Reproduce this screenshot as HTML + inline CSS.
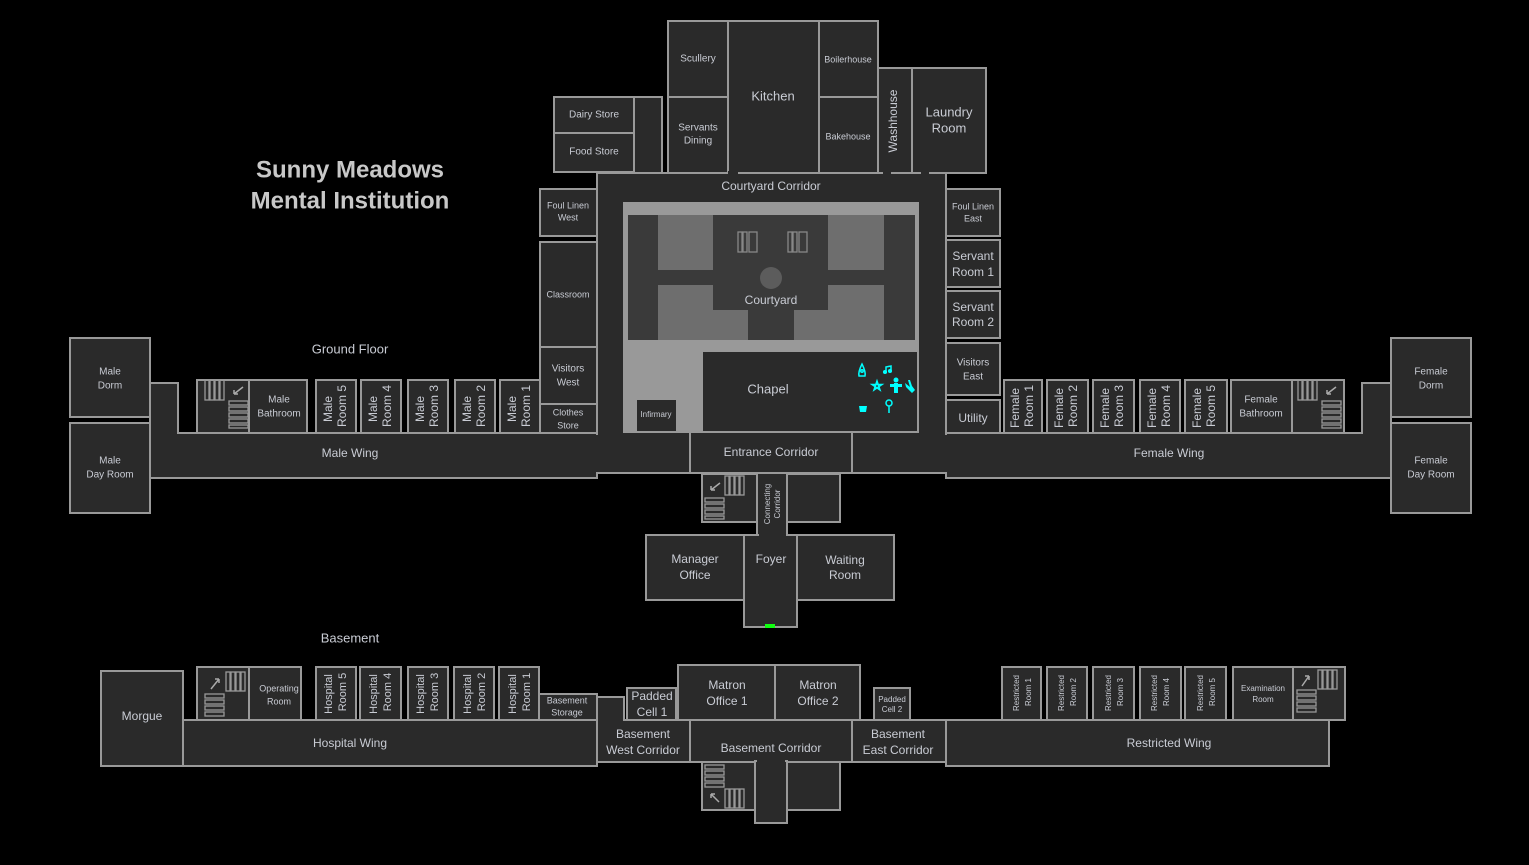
<!DOCTYPE html>
<html><head><meta charset="utf-8"><style>
html,body{margin:0;padding:0;background:#000;}
svg{display:block}
text{font-family:"Liberation Sans",sans-serif;fill:#c9ccd4;text-anchor:middle;dominant-baseline:middle}
.r{fill:#2a2a2a;stroke:#999;stroke-width:2}
.n{fill:none;stroke:#999;stroke-width:2}
.s{fill:none;stroke:#999;stroke-width:1.3}
.t{font-size:12px}
.m{font-size:13px}
.sm{font-size:10px}
.xs{font-size:9px}
</style></head><body>
<svg width="1529" height="865" viewBox="0 0 1529 865" xmlns="http://www.w3.org/2000/svg">
<defs>
<g id="stairs">
<rect class="s" x="0" y="0" width="4" height="20"/><rect class="s" x="5" y="0" width="4" height="20"/><rect class="s" x="10" y="0" width="4" height="20"/><rect class="s" x="15" y="0" width="4" height="20"/>
<rect class="s" x="24" y="21" width="19" height="4"/><rect class="s" x="24" y="27" width="19" height="4"/><rect class="s" x="24" y="33" width="19" height="4"/><rect class="s" x="24" y="39" width="19" height="4"/><rect class="s" x="24" y="45" width="19" height="3"/>
</g>
</defs>
<text x="350" y="171" style="font-size:24px;font-weight:bold;fill:#c8c8c8">Sunny Meadows</text>
<text x="350" y="202" style="font-size:24px;font-weight:bold;fill:#c8c8c8">Mental Institution</text>
<text x="350" y="350" class="m">Ground Floor</text>
<text x="350" y="639" class="m">Basement</text>

<!-- ===== GROUND FLOOR ===== -->
<rect class="r" x="634" y="97" width="28" height="80"/>
<rect class="r" x="597" y="173" width="349" height="300"/>
<rect class="r" x="554" y="97" width="80" height="36"/><text x="594" y="115" class="sm">Dairy Store</text>
<rect class="r" x="554" y="133" width="80" height="39"/><text x="594" y="152" class="sm">Food Store</text>
<rect class="r" x="668" y="21" width="60" height="76"/><text x="698" y="59" class="sm">Scullery</text>
<rect class="r" x="668" y="97" width="60" height="76"/><text x="698" y="128" class="sm">Servants</text><text x="698" y="141" class="sm">Dining</text>
<rect class="r" x="728" y="21" width="91" height="152"/><text x="773" y="97" class="m">Kitchen</text>
<rect class="r" x="819" y="21" width="59" height="76"/><text x="848" y="60" class="xs">Boilerhouse</text>
<rect class="r" x="819" y="97" width="59" height="76"/><text x="848" y="137" class="xs">Bakehouse</text>
<rect class="r" x="878" y="68" width="34" height="105"/><text transform="translate(894,121) rotate(-90)" class="t">Washhouse</text>
<rect class="r" x="912" y="68" width="74" height="105"/><text x="949" y="113" class="m">Laundry</text><text x="949" y="129" class="m">Room</text>
<rect fill="#2a2a2a" x="728" y="171" width="10" height="4"/><rect fill="#2a2a2a" x="883" y="171" width="8" height="4"/><rect fill="#2a2a2a" x="921" y="171" width="8" height="4"/>
<text x="771" y="187" class="t">Courtyard Corridor</text>

<rect class="r" x="540" y="189" width="57" height="47"/><text x="568" y="206" class="xs">Foul Linen</text><text x="568" y="218" class="xs">West</text>
<rect class="r" x="540" y="242" width="57" height="105"/><text x="568" y="295" class="xs">Classroom</text>
<rect class="r" x="540" y="347" width="57" height="57"/><text x="568" y="369" class="sm">Visitors</text><text x="568" y="383" class="sm">West</text>
<rect class="r" x="540" y="404" width="57" height="29"/><text x="568" y="413" class="xs">Clothes</text><text x="568" y="426" class="xs">Store</text>

<rect class="r" x="946" y="189" width="54" height="47"/><text x="973" y="207" class="xs">Foul Linen</text><text x="973" y="219" class="xs">East</text>
<rect class="r" x="946" y="240" width="54" height="47"/><text x="973" y="257" class="t">Servant</text><text x="973" y="273" class="t">Room 1</text>
<rect class="r" x="946" y="291" width="54" height="47"/><text x="973" y="308" class="t">Servant</text><text x="973" y="323" class="t">Room 2</text>
<rect class="r" x="946" y="343" width="54" height="52"/><text x="973" y="363" class="sm">Visitors</text><text x="973" y="377" class="sm">East</text>
<rect class="r" x="946" y="400" width="54" height="33"/><text x="973" y="419" class="t">Utility</text>

<rect x="623" y="202" width="296" height="231" fill="#999"/>
<rect x="628" y="215" width="287" height="125" fill="#3a3a3a"/>
<rect x="658" y="215" width="55" height="55" fill="#6e6e6e"/>
<rect x="828" y="215" width="56" height="55" fill="#6e6e6e"/>
<rect x="658" y="285" width="90" height="55" fill="#6e6e6e"/>
<rect x="794" y="285" width="90" height="55" fill="#6e6e6e"/>
<rect x="713" y="215" width="115" height="95" fill="#3a3a3a"/>
<rect x="748" y="310" width="46" height="30" fill="#3a3a3a"/>
<circle cx="771" cy="278" r="11" fill="#5c5c5c"/>
<g class="s" style="stroke:#888"><rect x="738" y="232" width="4" height="20"/><rect x="743" y="232" width="4" height="20"/><rect x="749" y="232" width="8" height="20"/><rect x="788" y="232" width="4" height="20"/><rect x="793" y="232" width="4" height="20"/><rect x="799" y="232" width="8" height="20"/></g>
<text x="771" y="301" class="t">Courtyard</text>
<rect class="r" x="702" y="351" width="216" height="81"/><text x="768" y="390" class="m">Chapel</text>
<rect class="r" x="636" y="399" width="41" height="33"/><text x="656" y="415" class="xs" style="font-size:8px">Infirmary</text>
<g fill="none" stroke="#0ff" stroke-width="1.5">
<path d="M862 364 q-4 8 -3 12 h6 q1 -4 -3 -12z"/><circle cx="862" cy="371" r="1.2"/>
<path d="M886 372 v-5 l5 -1 v5"/><circle cx="885" cy="372" r="1.3" fill="#0ff"/><circle cx="890" cy="371" r="1.3" fill="#0ff"/>
<path d="M877 381 l3 9 l-8 -5.5 h10 l-8 5.5z"/>
<circle cx="889" cy="403" r="3"/><path d="M889 406 v7"/>
</g>
<g fill="#0ff"><circle cx="896" cy="380" r="2.5"/><rect x="894" y="383" width="4" height="10"/><rect x="890" y="384" width="12" height="3"/>
<path d="M905 383 l5 4 l-2 -7 l2 0 l2 6 l3 4 l-3 3 l-6 -6z"/><path d="M859 406 h8 l-1 6 h-6z"/></g>

<path class="n" d="M690 432 V473 M852 432 V473"/>
<text x="771" y="453" class="t">Entrance Corridor</text>

<rect class="r" x="70" y="338" width="80" height="79"/><text x="110" y="372" class="sm">Male</text><text x="110" y="386" class="sm">Dorm</text>
<rect class="r" x="70" y="423" width="80" height="90"/><text x="110" y="461" class="sm">Male</text><text x="110" y="475" class="sm">Day Room</text>
<path class="r" d="M150 383 H178 V433 H597 V478 H150 Z"/>
<rect fill="#2a2a2a" x="592" y="435" width="10" height="37"/>
<text x="350" y="454" class="t">Male Wing</text>
<rect class="r" x="197" y="380" width="52" height="53"/><use href="#stairs" x="205" y="380"/>
<path d="M243 387 l-9 7 m0 0 v-4 m0 4 h4" stroke="#aaa" stroke-width="1.5" fill="none"/>
<rect class="r" x="249" y="380" width="58" height="53"/><text x="279" y="400" class="sm">Male</text><text x="279" y="414" class="sm">Bathroom</text>
<g class="t">
<rect class="r" x="316" y="380" width="40" height="53"/><text transform="translate(329,409) rotate(-90)">Male</text><text transform="translate(343,406) rotate(-90)">Room 5</text>
<rect class="r" x="361" y="380" width="40" height="53"/><text transform="translate(374,409) rotate(-90)">Male</text><text transform="translate(388,406) rotate(-90)">Room 4</text>
<rect class="r" x="408" y="380" width="40" height="53"/><text transform="translate(421,409) rotate(-90)">Male</text><text transform="translate(435,406) rotate(-90)">Room 3</text>
<rect class="r" x="455" y="380" width="40" height="53"/><text transform="translate(468,409) rotate(-90)">Male</text><text transform="translate(482,406) rotate(-90)">Room 2</text>
<rect class="r" x="500" y="380" width="40" height="53"/><text transform="translate(513,409) rotate(-90)">Male</text><text transform="translate(527,406) rotate(-90)">Room 1</text>
</g>

<rect class="r" x="1391" y="338" width="80" height="79"/><text x="1431" y="372" class="sm">Female</text><text x="1431" y="386" class="sm">Dorm</text>
<rect class="r" x="1391" y="423" width="80" height="90"/><text x="1431" y="461" class="sm">Female</text><text x="1431" y="475" class="sm">Day Room</text>
<path class="r" d="M946 433 H1362 V383 H1391 V478 H946 Z"/>
<rect fill="#2a2a2a" x="941" y="435" width="10" height="37"/>
<text x="1169" y="454" class="t">Female Wing</text>
<g class="t">
<rect class="r" x="1004" y="380" width="38" height="53"/><text transform="translate(1016,408) rotate(-90)">Female</text><text transform="translate(1030,406) rotate(-90)">Room 1</text>
<rect class="r" x="1047" y="380" width="41" height="53"/><text transform="translate(1060,408) rotate(-90)">Female</text><text transform="translate(1074,406) rotate(-90)">Room 2</text>
<rect class="r" x="1093" y="380" width="41" height="53"/><text transform="translate(1106,408) rotate(-90)">Female</text><text transform="translate(1120,406) rotate(-90)">Room 3</text>
<rect class="r" x="1140" y="380" width="40" height="53"/><text transform="translate(1153,408) rotate(-90)">Female</text><text transform="translate(1167,406) rotate(-90)">Room 4</text>
<rect class="r" x="1185" y="380" width="42" height="53"/><text transform="translate(1198,408) rotate(-90)">Female</text><text transform="translate(1212,406) rotate(-90)">Room 5</text>
</g>
<rect class="r" x="1231" y="380" width="61" height="53"/><text x="1261" y="400" class="sm">Female</text><text x="1261" y="414" class="sm">Bathroom</text>
<rect class="r" x="1292" y="380" width="52" height="53"/><use href="#stairs" x="1298" y="380"/>
<path d="M1336 387 l-9 7 m0 0 v-4 m0 4 h4" stroke="#aaa" stroke-width="1.5" fill="none"/>

<rect class="r" x="702" y="474" width="55" height="48"/>
<g class="s"><rect x="725" y="476" width="4" height="19"/><rect x="730" y="476" width="4" height="19"/><rect x="735" y="476" width="4" height="19"/><rect x="740" y="476" width="4" height="19"/><rect x="705" y="498" width="19" height="4"/><rect x="705" y="504" width="19" height="4"/><rect x="705" y="510" width="19" height="4"/><rect x="705" y="516" width="19" height="3"/></g>
<path d="M720 483 l-9 7 m0 0 v-4 m0 4 h4" stroke="#aaa" stroke-width="1.5" fill="none"/>
<rect class="r" x="787" y="474" width="53" height="48"/>
<rect class="r" x="757" y="473" width="30" height="64"/>
<text transform="translate(768,504) rotate(-90)" style="font-size:8px">Connecting</text>
<text transform="translate(778,504) rotate(-90)" style="font-size:8px">Corridor</text>
<rect class="r" x="646" y="535" width="98" height="65"/><text x="695" y="560" class="t">Manager</text><text x="695" y="576" class="t">Office</text>
<rect class="r" x="797" y="535" width="97" height="65"/><text x="845" y="561" class="t">Waiting</text><text x="845" y="576" class="t">Room</text>
<rect class="r" x="744" y="535" width="53" height="92"/><text x="771" y="560" class="t">Foyer</text>
<rect fill="#2a2a2a" x="759" y="533" width="27" height="4"/>
<rect x="765" y="624" width="10" height="4" fill="#1f1"/>

<!-- ===== BASEMENT ===== -->
<rect class="r" x="101" y="671" width="82" height="95"/><text x="142" y="717" class="t">Morgue</text>
<rect class="r" x="183" y="720" width="414" height="46"/><text x="350" y="744" class="t">Hospital Wing</text>
<rect class="r" x="197" y="667" width="52" height="53"/>
<g class="s"><rect x="226" y="672" width="4" height="19"/><rect x="231" y="672" width="4" height="19"/><rect x="236" y="672" width="4" height="19"/><rect x="241" y="672" width="4" height="19"/><rect x="205" y="694" width="19" height="4"/><rect x="205" y="700" width="19" height="4"/><rect x="205" y="706" width="19" height="4"/><rect x="205" y="712" width="19" height="4"/></g>
<path d="M211 689 l8 -10 m0 0 h-4 m4 0 v4" stroke="#aaa" stroke-width="1.5" fill="none"/>
<rect class="r" x="249" y="667" width="52" height="53"/><text x="279" y="689" class="xs">Operating</text><text x="279" y="702" class="xs">Room</text>
<g style="font-size:11px">
<rect class="r" x="316" y="667" width="40" height="53"/><text transform="translate(329,694) rotate(-90)">Hospital</text><text transform="translate(343,692) rotate(-90)">Room 5</text>
<rect class="r" x="360" y="667" width="41" height="53"/><text transform="translate(374,694) rotate(-90)">Hospital</text><text transform="translate(388,692) rotate(-90)">Room 4</text>
<rect class="r" x="408" y="667" width="40" height="53"/><text transform="translate(421,694) rotate(-90)">Hospital</text><text transform="translate(435,692) rotate(-90)">Room 3</text>
<rect class="r" x="454" y="667" width="40" height="53"/><text transform="translate(468,694) rotate(-90)">Hospital</text><text transform="translate(482,692) rotate(-90)">Room 2</text>
<rect class="r" x="499" y="667" width="40" height="53"/><text transform="translate(513,694) rotate(-90)">Hospital</text><text transform="translate(527,692) rotate(-90)">Room 1</text>
</g>
<rect class="r" x="539" y="694" width="58" height="26"/><text x="567" y="701" class="xs">Basement</text><text x="567" y="713" class="xs">Storage</text>
<path class="r" d="M597 697 H624 V720 H690 V762 H597 Z"/>
<text x="643" y="735" class="t">Basement</text><text x="643" y="751" class="t">West Corridor</text>
<rect class="r" x="627" y="688" width="49" height="32"/><text x="652" y="697" class="t">Padded</text><text x="652" y="713" class="t">Cell 1</text>
<rect class="r" x="678" y="665" width="97" height="55"/><text x="727" y="686" class="t">Matron</text><text x="727" y="702" class="t">Office 1</text>
<rect class="r" x="775" y="665" width="85" height="55"/><text x="818" y="686" class="t">Matron</text><text x="818" y="702" class="t">Office 2</text>
<rect class="r" x="690" y="720" width="162" height="42"/><text x="771" y="749" class="t">Basement Corridor</text>
<rect class="r" x="874" y="688" width="36" height="32"/><text x="892" y="700" style="font-size:8px">Padded</text><text x="892" y="710" style="font-size:8px">Cell 2</text>
<rect class="r" x="852" y="720" width="94" height="42"/><text x="898" y="735" class="t">Basement</text><text x="898" y="751" class="t">East Corridor</text>
<rect class="r" x="946" y="720" width="383" height="46"/><text x="1169" y="744" class="t">Restricted Wing</text>
<g style="font-size:8px">
<rect class="r" x="1002" y="667" width="39" height="53"/><text transform="translate(1017,693) rotate(-90)">Restricted</text><text transform="translate(1029,692) rotate(-90)">Room 1</text>
<rect class="r" x="1047" y="667" width="40" height="53"/><text transform="translate(1062,693) rotate(-90)">Restricted</text><text transform="translate(1074,692) rotate(-90)">Room 2</text>
<rect class="r" x="1093" y="667" width="41" height="53"/><text transform="translate(1109,693) rotate(-90)">Restricted</text><text transform="translate(1121,692) rotate(-90)">Room 3</text>
<rect class="r" x="1140" y="667" width="41" height="53"/><text transform="translate(1155,693) rotate(-90)">Restricted</text><text transform="translate(1167,692) rotate(-90)">Room 4</text>
<rect class="r" x="1185" y="667" width="41" height="53"/><text transform="translate(1201,693) rotate(-90)">Restricted</text><text transform="translate(1213,692) rotate(-90)">Room 5</text>
<rect class="r" x="1233" y="667" width="60" height="53"/><text x="1263" y="689">Examination</text><text x="1263" y="700">Room</text>
</g>
<rect class="r" x="1293" y="667" width="52" height="53"/>
<g class="s"><rect x="1318" y="670" width="4" height="19"/><rect x="1323" y="670" width="4" height="19"/><rect x="1328" y="670" width="4" height="19"/><rect x="1333" y="670" width="4" height="19"/><rect x="1297" y="690" width="19" height="4"/><rect x="1297" y="696" width="19" height="4"/><rect x="1297" y="702" width="19" height="4"/><rect x="1297" y="708" width="19" height="4"/></g>
<path d="M1302 686 l7 -10 m0 0 h-4 m4 0 v4" stroke="#aaa" stroke-width="1.5" fill="none"/>

<rect class="r" x="702" y="762" width="55" height="48"/>
<g class="s"><rect x="705" y="765" width="19" height="4"/><rect x="705" y="771" width="19" height="4"/><rect x="705" y="777" width="19" height="4"/><rect x="705" y="783" width="19" height="4"/><rect x="725" y="789" width="4" height="19"/><rect x="730" y="789" width="4" height="19"/><rect x="735" y="789" width="4" height="19"/><rect x="740" y="789" width="4" height="19"/></g>
<path d="M719 802 l-8 -8 m0 0 v4 m0 -4 h4" stroke="#aaa" stroke-width="1.5" fill="none"/>
<rect class="r" x="787" y="762" width="53" height="48"/>
<rect class="r" x="755" y="761" width="32" height="62"/>
<rect fill="#2a2a2a" x="757" y="759" width="28" height="5"/>
</svg>
</body></html>
